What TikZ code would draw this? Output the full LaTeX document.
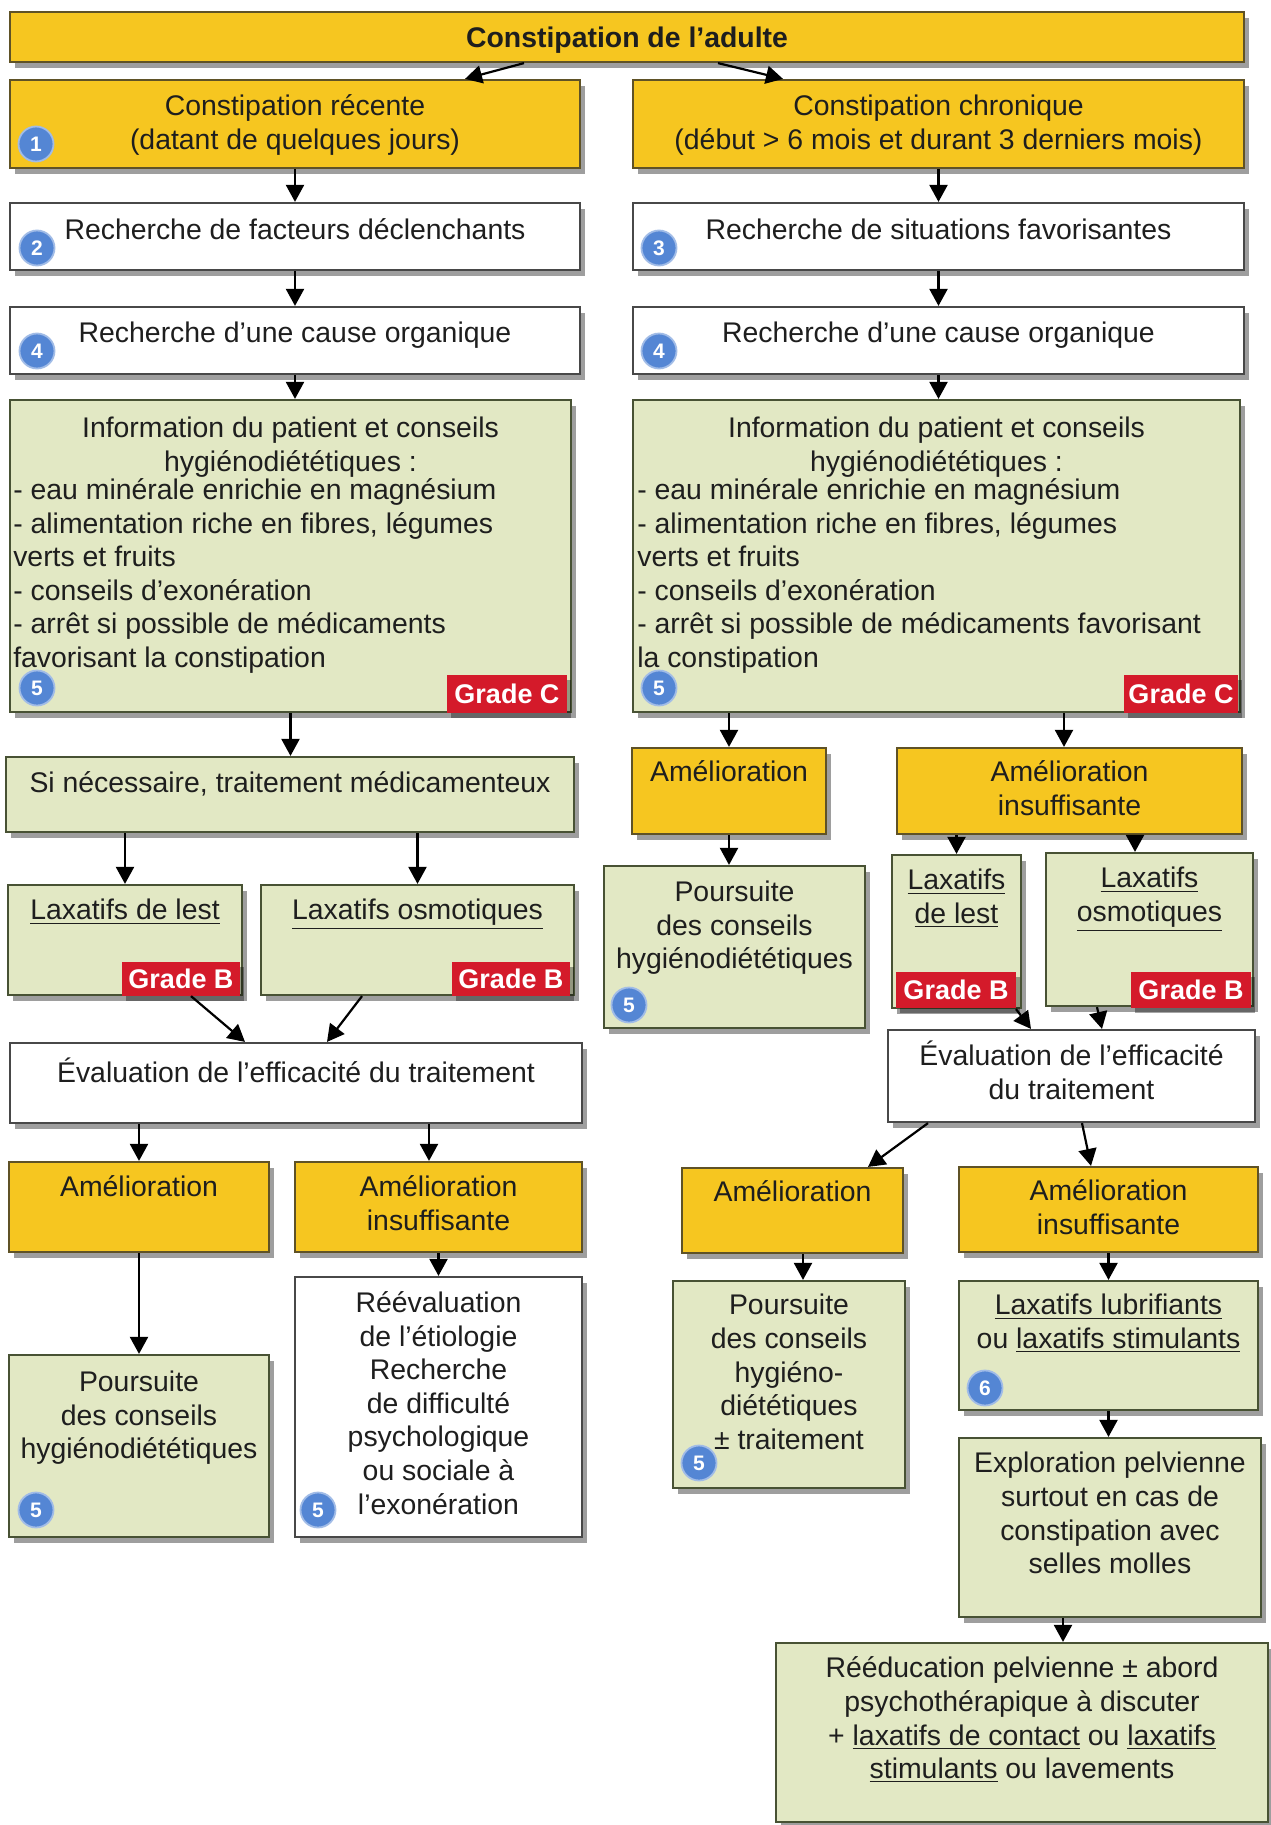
\documentclass[tikz,border=0pt]{standalone}
\usepackage{fontspec}
\setmainfont{Liberation Sans}
\usetikzlibrary{fit,shadows,arrows.meta,calc}
\definecolor{yelfill}{RGB}{246,198,32}
\definecolor{yeldraw}{RGB}{95,82,38}
\definecolor{grnfill}{RGB}{226,232,196}
\definecolor{grndraw}{RGB}{72,82,52}
\definecolor{whdraw}{RGB}{72,72,72}
\definecolor{gradered}{RGB}{212,26,42}
\definecolor{numblue}{RGB}{84,134,212}
\definecolor{txtcol}{RGB}{30,30,30}
\begin{document}
\begin{tikzpicture}[x=0.5pt,y=-0.5pt,
  base/.style={inner sep=0pt, line width=1.1pt,
    drop shadow={shadow xshift=2.5pt,shadow yshift=-3pt,opacity=.38,fill=black}},
  ybox/.style={base, draw=yeldraw, fill=yelfill},
  gbox/.style={base, draw=grndraw, fill=grnfill},
  wbox/.style={base, draw=whdraw, fill=white},
  txt/.style={anchor=north, align=center, inner sep=0pt, text=txtcol,
    font=\fontsize{14.2}{16.8}\selectfont},
  ttl/.style={txt, font=\bfseries\fontsize{14.2}{16.8}\selectfont},
  ltxt/.style={txt, anchor=north west, align=left},
  grade/.style={inner sep=0pt, fill=gradered,
    drop shadow={shadow xshift=2pt,shadow yshift=-2.5pt,opacity=.35,fill=black}},
  gradetxt/.style={inner sep=0pt, anchor=center, text=white,
    font=\bfseries\fontsize{13.5}{16}\selectfont},
  num/.style={circle, fill=numblue, draw=numblue!55, line width=0.9pt,
    minimum size=17.5pt, inner sep=0pt, text=white,
    font=\bfseries\fontsize{10.5}{12}\selectfont},
  arr/.style={line width=1.1pt, black, -{Triangle[length=8.5pt,width=9pt]}},
]
\useasboundingbox[fill=white] (0,0) rectangle (1270,1825);

% ---------- boxes ----------
\node[ybox, fit={(10,12)(1244,62)}] (T) {};
\node[ybox, fit={(10,80)(580,168)}] (R1) {};
\node[ybox, fit={(633,80)(1244,168)}] (C1) {};
\node[wbox, fit={(10,203)(580,270)}] (R2) {};
\node[wbox, fit={(633,203)(1244,270)}] (C2) {};
\node[wbox, fit={(10,307)(580,374)}] (R3) {};
\node[wbox, fit={(633,307)(1244,374)}] (C3) {};
\node[gbox, fit={(10,400)(571,712)}] (R4) {};
\node[gbox, fit={(633,400)(1240,712)}] (C4) {};
\node[gbox, fit={(6,757)(574,832)}] (R5) {};
\node[ybox, fit={(632,748)(826,834)}] (CA) {};
\node[ybox, fit={(897,748)(1242,834)}] (CI) {};
\node[gbox, fit={(8,885)(242,995)}] (RL) {};
\node[gbox, fit={(261,885)(574,995)}] (RO) {};
\node[gbox, fit={(604,866)(865,1028)}] (CP) {};
\node[gbox, fit={(892,855)(1021,1008)}] (CL) {};
\node[gbox, fit={(1046,853)(1253,1006)}] (CO) {};
\node[wbox, fit={(10,1043)(582,1123)}] (RE) {};
\node[wbox, fit={(888,1030)(1255,1122)}] (CE) {};
\node[ybox, fit={(9,1162)(269,1252)}] (RA) {};
\node[ybox, fit={(295,1162)(582,1252)}] (RI) {};
\node[gbox, fit={(9,1355)(269,1537)}] (RP) {};
\node[wbox, fit={(295,1277)(582,1537)}] (RR) {};
\node[ybox, fit={(682,1168)(903,1253)}] (CA2) {};
\node[ybox, fit={(959,1167)(1258,1252)}] (CI2) {};
\node[gbox, fit={(673,1281)(905,1488)}] (CP2) {};
\node[gbox, fit={(959,1281)(1258,1410)}] (CLL) {};
\node[gbox, fit={(959,1438)(1261,1617)}] (CX) {};
\node[gbox, fit={(776,1643)(1268,1822)}] (CR) {};

% ---------- texts ----------
\node[ttl] (Tt) at ([yshift=-6.3pt]T.north) {\strut Constipation de l'adulte};
\node[txt] (R1t) at ([yshift=-6.3pt]R1.north) {\strut Constipation récente\\(datant de quelques jours)};
\node[txt] (C1t) at ([yshift=-6.3pt]C1.north) {\strut Constipation chronique\\(début > 6 mois et durant 3 derniers mois)};
\node[txt] (R2t) at ([yshift=-6.8pt]R2.north) {\strut Recherche de facteurs déclenchants};
\node[txt] (C2t) at ([yshift=-6.8pt]C2.north) {\strut Recherche de situations favorisantes};
\node[txt] (R3t) at ([yshift=-6.3pt]R3.north) {\strut Recherche d'une cause organique};
\node[txt] (C3t) at ([yshift=-6.3pt]C3.north) {\strut Recherche d'une cause organique};
\node[txt] (R4h) at ([yshift=-7.35pt]R4.north) {\strut Information du patient et conseils\\hygiénodiététiques :};
\node[ltxt] (R4l) at ([xshift=2pt,yshift=-38.35pt]R4.north west) {\strut- eau minérale enrichie en magnésium\\- alimentation riche en fibres, légumes\\verts et fruits\\- conseils d'exonération\\- arrêt si possible de médicaments\\favorisant la constipation};
\node[txt] (C4h) at ([yshift=-7.35pt]C4.north) {\strut Information du patient et conseils\\hygiénodiététiques :};
\node[ltxt] (C4l) at ([xshift=2.5pt,yshift=-38.35pt]C4.north west) {\strut- eau minérale enrichie en magnésium\\- alimentation riche en fibres, légumes\\verts et fruits\\- conseils d'exonération\\- arrêt si possible de médicaments favorisant\\la constipation};
\node[txt] (R5t) at ([yshift=-6.3pt]R5.north) {\strut Si nécessaire, traitement médicamenteux};
\node[txt] (CAt) at ([yshift=-5.5pt]CA.north) {\strut Amélioration};
\node[txt] (CIt) at ([yshift=-5.5pt]CI.north) {\strut Amélioration\\insuffisante};
\node[txt] (RLt) at ([yshift=-6pt]RL.north) {\strut\underline{Laxatifs de lest}};
\node[txt] (ROt) at ([yshift=-6pt]RO.north) {\strut\underline{Laxatifs osmotiques}};
\node[txt] (CPt) at ([yshift=-6.3pt]CP.north) {\strut Poursuite\\des conseils\\hygiénodiététiques};
\node[txt] (CLt) at ([yshift=-6pt]CL.north) {\strut\underline{Laxatifs}\\\underline{de lest}};
\node[txt] (COt) at ([yshift=-6pt]CO.north) {\strut\underline{Laxatifs}\\\underline{osmotiques}};
\node[txt] (REt) at ([yshift=-7.8pt]RE.north) {\strut Évaluation de l'efficacité du traitement};
\node[txt] (CEt) at ([yshift=-6pt]CE.north) {\strut Évaluation de l'efficacité\\du traitement};
\node[txt] (RAt) at ([yshift=-6pt]RA.north) {\strut Amélioration};
\node[txt] (RIt) at ([yshift=-6pt]RI.north) {\strut Amélioration\\insuffisante};
\node[txt] (RPt) at ([yshift=-6.8pt]RP.north) {\strut Poursuite\\des conseils\\hygiénodiététiques};
\node[txt] (RRt) at ([yshift=-6.3pt]RR.north) {\strut Réévaluation\\de l'étiologie\\Recherche\\de difficulté\\psychologique\\ou sociale à\\l'exonération};
\node[txt] (CA2t) at ([yshift=-5.5pt]CA2.north) {\strut Amélioration};
\node[txt] (CI2t) at ([yshift=-5.5pt]CI2.north) {\strut Amélioration\\insuffisante};
\node[txt] (CP2t) at ([yshift=-5.5pt]CP2.north) {\strut Poursuite\\des conseils\\hygiéno-\\diététiques\\± traitement};
\node[txt] (CLLt) at ([yshift=-5.5pt]CLL.north) {\strut\underline{Laxatifs lubrifiants}\\ou \underline{laxatifs stimulants}};
\node[txt] (CXt) at ([yshift=-6pt]CX.north) {\strut Exploration pelvienne\\surtout en cas de\\constipation avec\\selles molles};
\node[txt] (CRt) at ([yshift=-6pt]CR.north) {\strut Rééducation pelvienne ± abord\\psychothérapique à discuter\\+ \underline{laxatifs de contact} ou \underline{laxatifs}\\\underline{stimulants} ou lavements};

% ---------- grade badges ----------
\node[grade, fit={(447,675)(567,713)}] (gC1) {};
\node[grade, fit={(1124,675)(1238,713)}] (gC2) {};
\node[grade, fit={(122,962)(240,996)}] (gB1) {};
\node[grade, fit={(452,962)(570,996)}] (gB2) {};
\node[grade, fit={(896,972)(1016,1008)}] (gB3) {};
\node[grade, fit={(1131,972)(1251,1008)}] (gB4) {};
\node[gradetxt] (gC1t) at (gC1.center) {Grade C};
\node[gradetxt] (gC2t) at (gC2.center) {Grade C};
\node[gradetxt] (gB1t) at (gB1.center) {Grade B};
\node[gradetxt] (gB2t) at (gB2.center) {Grade B};
\node[gradetxt] (gB3t) at (gB3.center) {Grade B};
\node[gradetxt] (gB4t) at (gB4.center) {Grade B};

% ---------- number badges ----------
\node[num] (n1) at (36,144) {1};
\node[num] (n2) at (37,248) {2};
\node[num] (n3) at (659,248) {3};
\node[num] (n4a) at (37,351) {4};
\node[num] (n4b) at (659,351) {4};
\node[num] (n5a) at (37,688) {5};
\node[num] (n5b) at (659,688) {5};
\node[num] (n5c) at (629,1005) {5};
\node[num] (n5d) at (36,1510) {5};
\node[num] (n5e) at (318,1510) {5};
\node[num] (n5f) at (699,1463) {5};
\node[num] (n6) at (985,1388) {6};

% ---------- helper coordinates ----------
\coordinate (cit) at ([xshift=-2.75pt]CI.north);
\coordinate (cot) at ([xshift=-7.25pt]CO.north);
\coordinate (rit) at ([xshift=-4.75pt]RI.north);
\coordinate (cpt) at ([xshift=5.25pt]CA2.south);
\coordinate (crt) at ([xshift=20.5pt]CR.north);

% ---------- connectors ----------
\draw[arr] ([xshift=-51.5pt]T.south) -- ([xshift=85pt]R1.north);
\draw[arr] ([xshift=45.5pt]T.south) -- ([xshift=-77.75pt]C1.north);
\draw[arr] (R1) -- (R2);
\draw[arr] (C1) -- (C2);
\draw[arr] (R2) -- (R3);
\draw[arr] (C2) -- (C3);
\draw[arr] (R3.south) -- (R3.south |- R4.north);
\draw[arr] (C3.south) -- (C3.south |- C4.north);
\draw[arr] (R4.south) -- (R4.south |- R5.north);
\draw[arr] (C4.south -| CA.north) -- (CA.north);
\draw[arr] (C4.south -| cit) -- (cit);
\draw[arr] (R5.south -| RL.north) -- (RL.north);
\draw[arr] (R5.south -| RO.north) -- (RO.north);
\draw[arr] (CA.south) -- (CA.south |- CP.north);
\draw[arr] (CI.south -| CL.north) -- (CL.north);
\draw[arr] (CI.south -| cot) -- (cot);
\draw[arr] ([xshift=33pt]RL.south) -- ([xshift=-25.5pt]RE.north);
\draw[arr] ([xshift=-27.75pt]RO.south) -- ([xshift=15.5pt]RE.north);
\draw[arr] ([xshift=29.75pt]CL.south) -- ([xshift=-20.25pt]CE.north);
\draw[arr] ([xshift=-26.25pt]CO.south) -- ([xshift=15.25pt]CE.north);
\draw[arr] (RE.south -| RA.north) -- (RA.north);
\draw[arr] (RE.south -| rit) -- (rit);
\draw[arr] ([xshift=-71.75pt]CE.south) -- ([xshift=37.75pt]CA2.north);
\draw[arr] ([xshift=5.25pt]CE.south) -- ([xshift=-8.75pt]CI2.north);
\draw[arr] (RA) -- (RP);
\draw[arr] (RI) -- (RR);
\draw[arr] (cpt) -- (cpt |- CP2.north);
\draw[arr] (CI2) -- (CLL);
\draw[arr] (CLL.south) -- (CLL.south |- CX.north);
\draw[arr] (CX.south -| crt) -- (crt);
\end{tikzpicture}
\end{document}
